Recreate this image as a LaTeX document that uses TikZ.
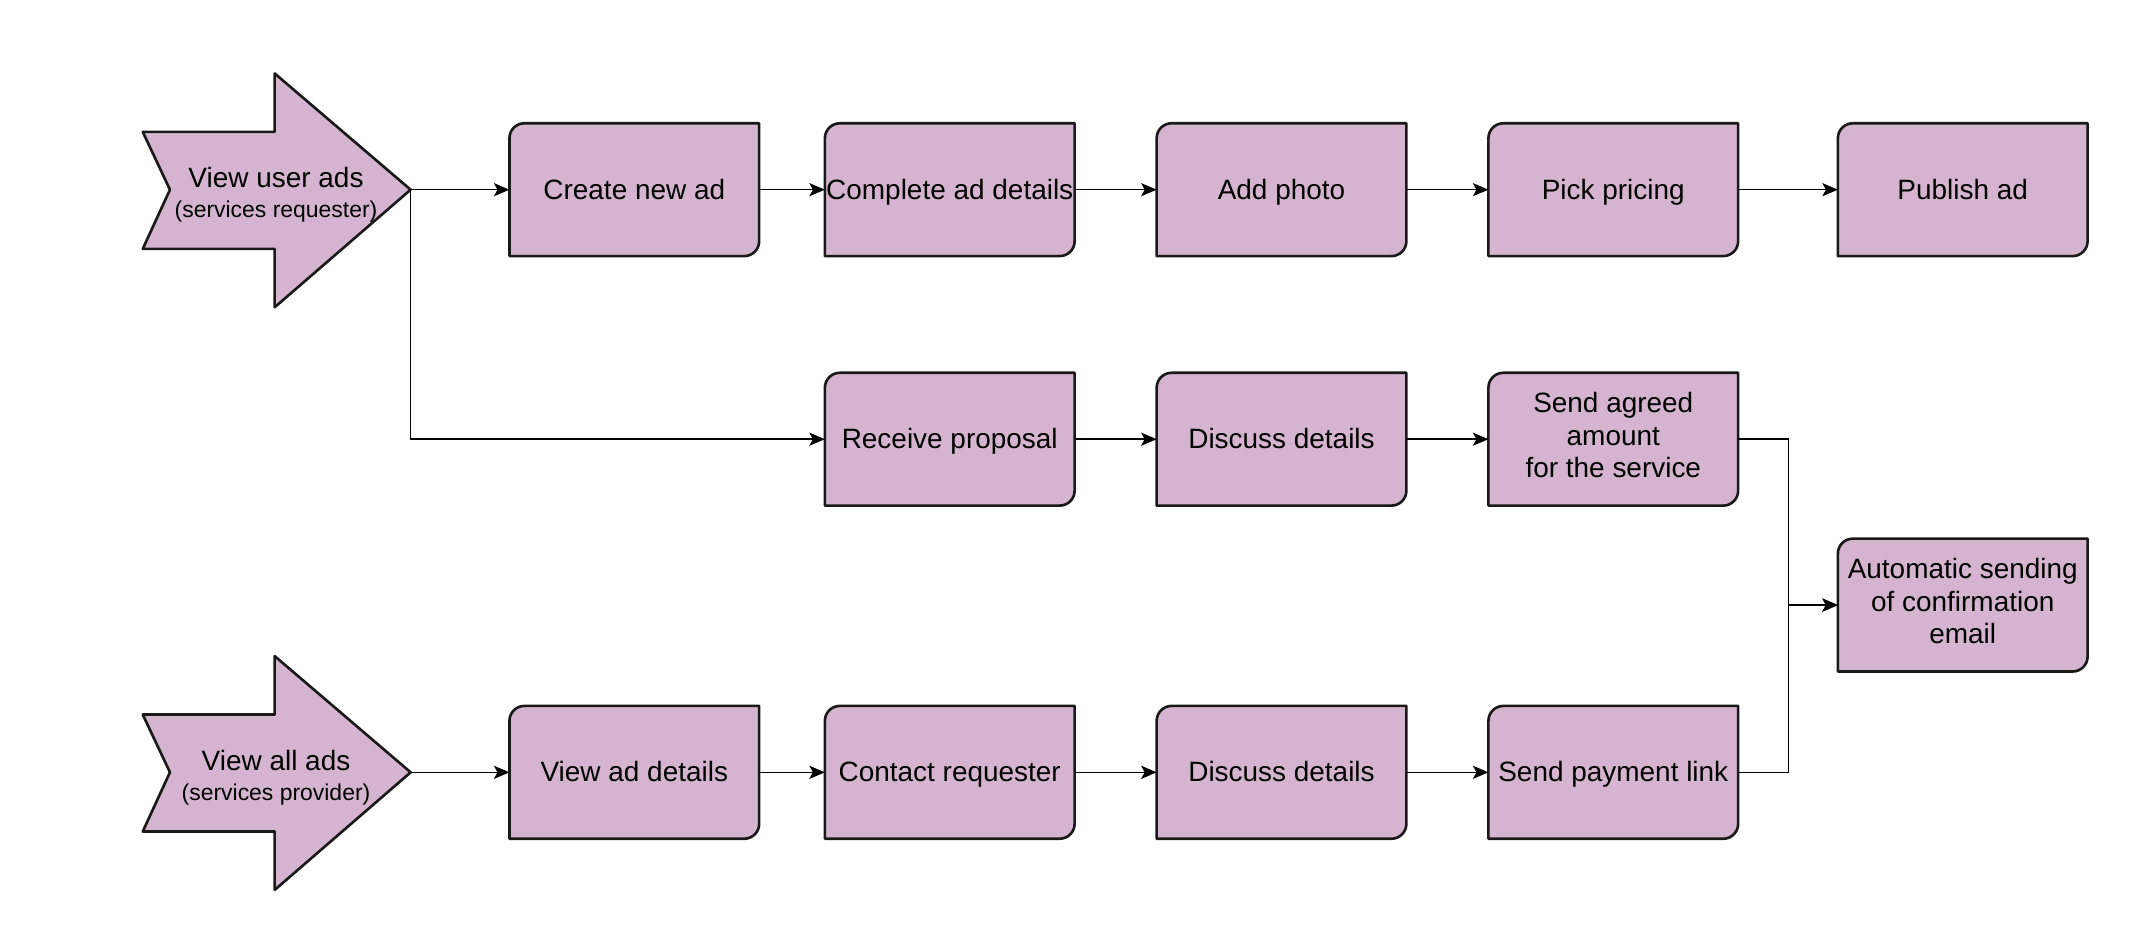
\documentclass[tikz,border=0pt]{standalone}
\usepackage{fontspec}
\setmainfont{Liberation Sans}
\usetikzlibrary{arrows.meta,backgrounds}
\definecolor{cardfill}{RGB}{213,180,207}
\newcommand{\boxfont}{\fontsize{11.7}{13.6}\selectfont}
\newcommand{\notefont}{\fontsize{9.6}{11}\selectfont}
\tikzset{
    stepbox/.style={minimum width=3.66cm, minimum height=1.94cm, inner sep=0pt, align=center, font=\boxfont,
        execute at begin node={\rule{0pt}{11.5pt}}, execute at end node={\rule[-3.5pt]{0pt}{3.5pt}}},
    starttext/.style={align=center, font=\boxfont, inner sep=0pt},
    card/.style={draw=black!90, fill=cardfill, line width=1.1pt, line join=round},
    flow/.style={-{Stealth[length=6.5pt,width=5.5pt,inset=1.5pt]}, line width=0.6pt}
}

\begin{document}
\begin{tikzpicture}[x=0.02cm, y=-0.02cm]
                                \useasboundingbox (0,0) rectangle (1568,682.5);
                                % start arrows
                                \draw[card] (105,97) -- (202,97) -- (202,54) -- (302,139.5) -- (202,226) -- (202,183) -- (105,183) -- (125,139.5) -- cycle;
                                \draw[card, shift={(0,428.5)}] (105,97) -- (202,97) -- (202,54) -- (302,139.5) -- (202,226) -- (202,183) -- (105,183) -- (125,139.5) -- cycle;
                                \node[starttext] (userads) at (203,143.5) {View user ads\\[-1.1pt]{\notefont(services requester)}};
                                \node[starttext] (allads) at (203,572) {View all ads\\[-1.1pt]{\notefont(services provider)}};
                                \coordinate (usertip) at (302,139.5);
                                \coordinate (alltip) at (302,568);
                                % requester row
                                \node[stepbox] (create) at (466.5,139.5) {Create new ad};
                                \node[stepbox] (complete) at (698.5,139.5) {Complete ad details};
                                \node[stepbox] (photo) at (942.5,139.5) {Add photo};
                                \node[stepbox] (pricing) at (1186.5,139.5) {Pick pricing};
                                \node[stepbox] (publish) at (1443.5,139.5) {Publish ad};
                                % proposal row
                                \node[stepbox] (receive) at (698.5,323) {Receive proposal};
                                \node[stepbox] (discussa) at (942.5,323) {Discuss details};
                                \node[stepbox] (agreed) at (1186.5,323) {Send agreed\\amount\\for the service};
                                \node[stepbox] (email) at (1443.5,445) {Automatic sending\\of confirmation\\email};
                                % provider row
                                \node[stepbox] (viewad) at (466.5,568) {View ad details};
                                \node[stepbox] (contact) at (698.5,568) {Contact requester};
                                \node[stepbox] (discussb) at (942.5,568) {Discuss details};
                                \node[stepbox] (payment) at (1186.5,568) {Send payment link};
                                \begin{pgfonlayer}{background}
                                    \foreach \n in {create,complete,photo,pricing,publish,receive,discussa,agreed,email,viewad,contact,discussb,payment}
                                        \draw[card] (\n.south west) -- ([yshift=-0.22cm]\n.north west) arc[start angle=180, end angle=90, radius=0.22cm] -- (\n.north east) -- ([yshift=0.22cm]\n.south east) arc[start angle=0, end angle=-90, radius=0.22cm] -- cycle;
                                \end{pgfonlayer}
                                % connectors
                                \draw[flow] (usertip) -- (create.west);
                                \draw[flow] (create) -- (complete);
                                \draw[flow] (complete) -- (photo);
                                \draw[flow] (photo) -- (pricing);
                                \draw[flow] (pricing) -- (publish);
                                \draw[flow] (usertip) |- (receive.west);
                                \draw[flow] (receive) -- (discussa);
                                \draw[flow] (discussa) -- (agreed);
                                \draw[flow] (agreed.east) -- ++(37,0) |- (email.west);
                                \draw[flow] (alltip) -- (viewad.west);
                                \draw[flow] (viewad) -- (contact);
                                \draw[flow] (contact) -- (discussb);
                                \draw[flow] (discussb) -- (payment);
                                \draw[flow] (payment.east) -- ++(37,0) |- (email.west);
                            \end{tikzpicture}
\end{document}
